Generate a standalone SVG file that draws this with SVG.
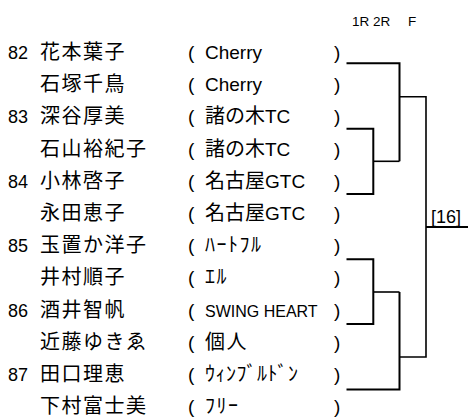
<svg xmlns="http://www.w3.org/2000/svg" width="468" height="419" viewBox="0 0 468 419">
<style>
text{fill:#000}
.num{font-family:"Liberation Sans",Arial,sans-serif;font-size:18px}
.nm{font-family:"Noto Sans CJK JP","Liberation Sans",sans-serif;font-size:20px;letter-spacing:1.5px}
.par{font-family:"Liberation Sans",Arial,sans-serif;font-size:19px}
.tm{font-family:"Liberation Sans","Noto Sans CJK JP",sans-serif;font-size:19px}
.tj{font-family:"Noto Sans CJK JP","Liberation Sans",sans-serif;font-size:20px}
.kana{font-family:"Noto Sans CJK JP",sans-serif;font-size:20px;letter-spacing:1.5px}
.sm{font-family:"Liberation Sans",Arial,sans-serif;font-size:16px}
.hd{font-family:"Liberation Sans",Arial,sans-serif;font-size:13.5px}
.row{fill:none;stroke:#000;stroke-width:2}
.conn{fill:none;stroke:#000;stroke-width:1.6}
</style>
<g id="header">
<text class="hd" x="352" y="25.5">1R</text>
<text class="hd" x="373" y="25.5">2R</text>
<text class="hd" x="408" y="25.5">F</text>
</g>
<g id="p82a"><text class="num" x="8" y="59">82</text><text class="nm" x="40" y="59">花本葉子</text><text class="par" x="188" y="59">(</text><text class="tm" x="205" y="59">Cherry</text><text class="par" x="334" y="59">)</text></g>
<g id="p82b"><text class="nm" x="40" y="91.2">石塚千鳥</text><text class="par" x="188" y="91.2">(</text><text class="tm" x="205" y="91.2">Cherry</text><text class="par" x="334" y="91.2">)</text></g>
<g id="p83a"><text class="num" x="8" y="123.4">83</text><text class="nm" x="40" y="123.4">深谷厚美</text><text class="par" x="188" y="123.4">(</text><text class="tj" x="205" y="123.4">諸の木<tspan class="tm">TC</tspan></text><text class="par" x="334" y="123.4">)</text></g>
<g id="p83b"><text class="nm" x="40" y="155.6">石山裕紀子</text><text class="par" x="188" y="155.6">(</text><text class="tj" x="205" y="155.6">諸の木<tspan class="tm">TC</tspan></text><text class="par" x="334" y="155.6">)</text></g>
<g id="p84a"><text class="num" x="8" y="187.8">84</text><text class="nm" x="40" y="187.8">小林啓子</text><text class="par" x="188" y="187.8">(</text><text class="tj" x="205" y="187.8">名古屋<tspan class="tm">GTC</tspan></text><text class="par" x="334" y="187.8">)</text></g>
<g id="p84b"><text class="nm" x="40" y="220">永田恵子</text><text class="par" x="188" y="220">(</text><text class="tj" x="205" y="220">名古屋<tspan class="tm">GTC</tspan></text><text class="par" x="334" y="220">)</text></g>
<g id="p85a"><text class="num" x="8" y="252.2">85</text><text class="nm" x="40" y="252.2">玉置か洋子</text><text class="par" x="188" y="252.2">(</text><text class="kana" x="205" y="252.2">ﾊｰﾄﾌﾙ</text><text class="par" x="334" y="252.2">)</text></g>
<g id="p85b"><text class="nm" x="40" y="284.4">井村順子</text><text class="par" x="188" y="284.4">(</text><text class="kana" x="205" y="284.4">ｴﾙ</text><text class="par" x="334" y="284.4">)</text></g>
<g id="p86a"><text class="num" x="8" y="316.6">86</text><text class="nm" x="40" y="316.6">酒井智帆</text><text class="par" x="188" y="316.6">(</text><text class="sm" x="205" y="316.6">SWING HEART</text><text class="par" x="334" y="316.6">)</text></g>
<g id="p86b"><text class="nm" x="40" y="348.8">近藤ゆきゑ</text><text class="par" x="188" y="348.8">(</text><text class="nm" x="205" y="348.8">個人</text><text class="par" x="334" y="348.8">)</text></g>
<g id="p87a"><text class="num" x="8" y="381">87</text><text class="nm" x="40" y="381">田口理恵</text><text class="par" x="188" y="381">(</text><text class="kana" x="205" y="381" style="letter-spacing:0.5px">ｳｨﾝﾌﾞﾙﾄﾞﾝ</text><text class="par" x="334" y="381">)</text></g>
<g id="p87b"><text class="nm" x="40" y="413.2">下村富士美</text><text class="par" x="188" y="413.2">(</text><text class="kana" x="205" y="413.2">ﾌﾘｰ</text><text class="par" x="334" y="413.2">)</text></g>
<g id="result"><text class="num" x="431" y="222.5">[16]</text></g>
<g id="connectors">
<path class="row" d="M346.5 63.3H399.5V161.3"/>
<path class="row" d="M346.5 128.7H373.3V194H346.5"/>
<path class="row" d="M346.5 259.3H373.3V324H346.5"/>
<path class="row" d="M346.5 389.5H399.5V292"/>
<path class="conn" d="M373.3 161.3H399.5"/>
<path class="conn" d="M373.3 292H399.5"/>
<path class="conn" d="M399.5 96.7H426V357H399.5"/>
<path class="row" d="M426 227H468"/>
</g>
</svg>
